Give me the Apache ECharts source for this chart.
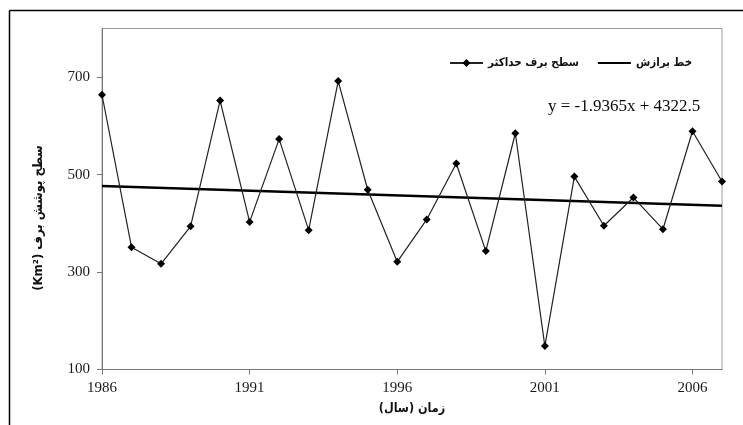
<!DOCTYPE html>
<html>
<head>
<meta charset="utf-8">
<script src="https://cdn.jsdelivr.net/npm/echarts@6/dist/echarts.min.js"></script>
<style>
html,body{margin:0;padding:0;background:#fff;}
#chart{width:743px;height:425px;}
</style>
</head>
<body>
<div id="chart"></div>
<script>
// Data
const years = [1986,1987,1988,1989,1990,1991,1992,1993,1994,1995,1996,1997,1998,1999,2000,2001,2002,2003,2004,2005,2006,2007];
const maxSnow = [664,351,317,394,652,403,573,386,692,469,321,408,523,343,585,148,496,395,453,388,589,486];
const fitYears = [1986, 2007];
const fitValues = [476.6, 436.0];
const xTicks = [1986,1991,1996,2001,2006];
const yTicks = [100,300,500,700];
const seriesNames = ['سطح برف حداکثر', 'خط برازش'];
const equationText = 'y = -1.9365x + 4322.5';
const xTitle = '\u202Bزمان (سال)\u202C';
const yTitle = '\u202Bسطح پوشش برف (Km²)\u202C';

const chart = echarts.init(document.getElementById('chart'), null, {renderer:'canvas'});
const serif = '"Liberation Serif", "DejaVu Serif", serif';
const arab = '"DejaVu Sans Condensed", "DejaVu Sans", sans-serif';

chart.setOption({
  animation: false,
  backgroundColor: '#fff',
  grid: {left: 102, right: 21, top: 28.5, bottom: 55.5, show: true, borderColor: '#9a9a9a', borderWidth: 1},
  legend: {
    left: 444, top: 52,
    itemWidth: 33, itemHeight: 10, itemGap: 18,
    data: [
      {name: seriesNames[0]},
      {name: seriesNames[1], itemStyle: {opacity: 0}}
    ],
    textStyle: {fontFamily: arab, fontSize: 11.5, fontWeight: 'bold', color: '#111'}
  },
  xAxis: {
    type: 'value', min: 1986, max: 2007,
    axisLine: {show: true, lineStyle: {color: '#777', width: 1}},
    axisTick: {show: true, length: 5, inside: false, customValues: xTicks, lineStyle: {color: '#777'}},
    axisLabel: {customValues: xTicks, margin: 11, fontFamily: serif, fontSize: 15, color: '#1a1a1a', formatter: v => String(v)},
    splitLine: {show: false},
    name: xTitle, nameLocation: 'middle', nameGap: 33,
    nameTextStyle: {fontFamily: arab, fontSize: 12.5, fontWeight: 'bold', color: '#111'}
  },
  yAxis: {
    type: 'value', min: 100, max: 800,
    axisLine: {show: true, lineStyle: {color: '#777', width: 1}},
    axisTick: {show: true, length: 5, inside: false, customValues: yTicks, lineStyle: {color: '#777'}},
    axisLabel: {customValues: yTicks, margin: 12, fontFamily: serif, fontSize: 15, color: '#1a1a1a', formatter: v => String(v)},
    splitLine: {show: false}
  },
  graphic: [
    {type: 'line', shape: {x1: 9.5, y1: 10.5, x2: 743, y2: 10.5}, style: {stroke: '#000', lineWidth: 1.5}, silent: true},
    {type: 'line', shape: {x1: 9.5, y1: 10.5, x2: 9.5, y2: 425}, style: {stroke: '#000', lineWidth: 1.5}, silent: true},
    {type: 'text', x: 548, y: 107, style: {text: equationText, font: '17px ' + serif, fill: '#0a0a0a', textAlign: 'left', verticalAlign: 'middle'}, silent: true},
    {type: 'text', x: 39, y: 218, rotation: Math.PI / 2, style: {text: yTitle, font: 'bold 13px ' + arab, fill: '#111', align: 'center', verticalAlign: 'middle'}, silent: true}
  ],
  series: [
    {
      name: seriesNames[0], type: 'line',
      data: years.map((y, i) => [y, maxSnow[i]]),
      symbol: 'diamond', symbolSize: 8,
      itemStyle: {color: '#000'},
      lineStyle: {color: '#222', width: 1.2},
      z: 3
    },
    {
      name: seriesNames[1], type: 'line',
      data: fitYears.map((y, i) => [y, fitValues[i]]),
      symbol: 'none',
      itemStyle: {color: '#000'},
      lineStyle: {color: '#000', width: 2.6},
      z: 2
    }
  ]
});
</script>
</body>
</html>
